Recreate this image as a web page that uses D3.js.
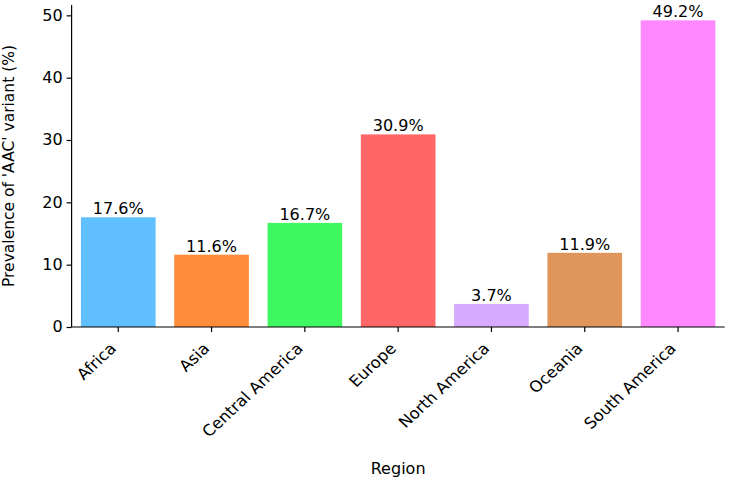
<!DOCTYPE html>
<html>
<head>
<meta charset="utf-8">
<script src="https://cdn.jsdelivr.net/npm/d3@7"></script>
<style>
  body { margin: 0; background: #fff; }
  text { font-family: "DejaVu Sans", sans-serif; fill: #000; }
</style>
</head>
<body>
<script>
// chart data
const regions = ["Africa", "Asia", "Central America", "Europe", "North America", "Oceania", "South America"];
const prevalence = [17.6, 11.6, 16.7, 30.9, 3.7, 11.9, 49.2];
const barColors = ["#5fbfff", "#ff8c3a", "#40f860", "#ff6666", "#d6aaff", "#e0955a", "#ff88ff"];
const yTicks = [0, 10, 20, 30, 40, 50];

const width = 729;
const height = 480;
const fontSize = 15;
const stretch = "scale(1.07,1)"; // reference image is a bit wider than tall

const svg = d3.select("body")
    .append("svg")
    .attr("width", width)
    .attr("height", height);

// plot area (window.top is taken, so own names)
const plotLeft = 71.6, plotRight = 724.7, plotTop = 5, plotBottom = 327;

const x = d3.scaleBand()
    .domain(regions)
    .range([plotLeft, plotRight])
    .paddingInner(0.2)
    .paddingOuter(0.1);

const y = d3.scaleLinear()
    .domain([0, d3.max(prevalence) * 1.05])
    .range([plotBottom, plotTop]);

const data = regions.map((r, i) => ({region: r, value: prevalence[i], color: barColors[i]}));

// bars
svg.selectAll(".bar")
    .data(data)
    .enter()
    .append("rect")
    .attr("class", "bar")
    .attr("x", d => x(d.region))
    .attr("width", x.bandwidth())
    .attr("y", d => y(d.value))
    .attr("height", d => y(0) - y(d.value))
    .attr("fill", d => d.color);

// value labels
svg.selectAll(".val")
    .data(data)
    .enter()
    .append("text")
    .attr("class", "val")
    .attr("transform", d => `translate(${x(d.region) + x.bandwidth() / 2},${y(d.value) - 3}) ${stretch}`)
    .attr("text-anchor", "middle")
    .style("font-size", fontSize + "px")
    .text(d => d.value.toFixed(1) + "%");

// y axis
const yAxis = svg.append("g")
    .attr("transform", `translate(${plotLeft},0)`)
    .call(d3.axisLeft(y).tickValues(yTicks).tickSize(5).tickPadding(4));
yAxis.select(".domain").attr("d", `M0,${plotTop}V${plotBottom}`).attr("stroke-width", 1.2);
yAxis.selectAll(".tick line").attr("stroke-width", 1.2);
yAxis.selectAll(".tick text")
    .style("font-size", fontSize + "px")
    .style("font-family", "DejaVu Sans")
    .attr("fill", "#000")
    .attr("x", null)
    .attr("transform", `translate(-9,0) ${stretch}`);

// x axis
const xAxis = svg.append("g")
    .attr("transform", `translate(0,${plotBottom})`)
    .call(d3.axisBottom(x).tickSize(5).tickSizeOuter(0));
xAxis.select(".domain").attr("d", `M${plotLeft},0H${plotRight}`).attr("stroke-width", 1.2);
xAxis.selectAll(".tick line").attr("stroke-width", 1.2);
xAxis.selectAll(".tick text")
    .style("font-size", "15.5px")
    .style("font-family", "DejaVu Sans")
    .attr("fill", "#000")
    .attr("text-anchor", "end")
    .attr("dy", null)
    .attr("y", null)
    .attr("transform", `translate(-1,22.5) ${stretch} rotate(-45)`);

// axis titles
svg.append("text")
    .attr("transform", `translate(${(plotLeft + plotRight) / 2},474) ${stretch}`)
    .attr("text-anchor", "middle")
    .style("font-size", fontSize + "px")
    .text("Region");

svg.append("text")
    .attr("transform", `translate(14,${(plotTop + plotBottom) / 2}) rotate(-90)`)
    .attr("text-anchor", "middle")
    .style("font-size", "15.5px")
    .text("Prevalence of 'AAC' variant (%)");
</script>
</body>
</html>
